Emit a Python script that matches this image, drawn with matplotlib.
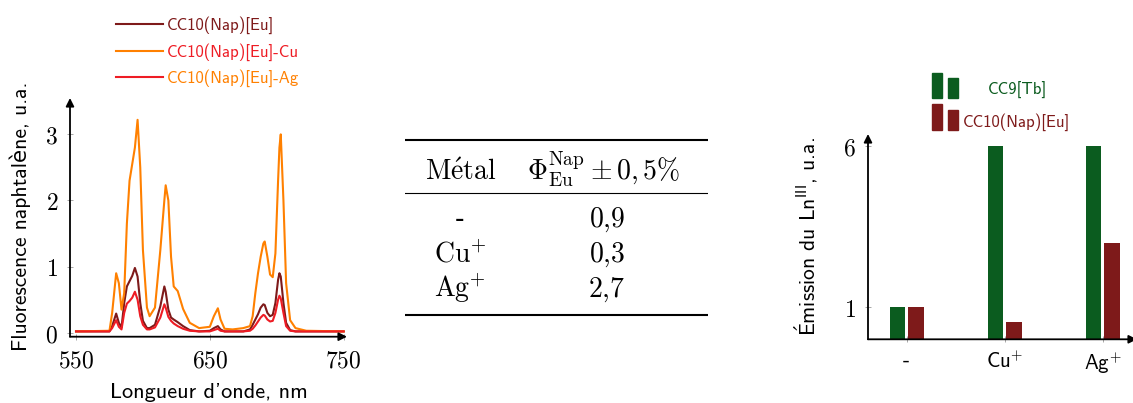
import matplotlib
matplotlib.use('Agg')
import matplotlib.pyplot as plt
from matplotlib.patches import Rectangle
import numpy as np

plt.rcParams['mathtext.fontset'] = 'cm'
SANS = ['cmss10', 'DejaVu Sans']

W, H = 1133, 403

# Spectra data (wavelength in nm, intensity in a.u.)
wl = [550, 575, 577, 580, 582, 584, 586, 588, 590, 592, 594, 596, 598, 600, 603, 605,
      609, 613, 616, 617, 619, 621, 623, 626, 630, 635, 642, 650, 653, 656, 658, 661,
      667, 675, 680, 682, 684, 686, 688, 690, 691, 693, 695, 697, 699, 701, 702, 703,
      705, 707, 710, 714, 722, 750]
eu = [0.02, 0.02, 0.10, 0.29, 0.15, 0.08, 0.45, 0.70, 0.78, 0.86, 0.98, 0.85, 0.45, 0.18, 0.07, 0.07,
      0.12, 0.40, 0.70, 0.62, 0.35, 0.23, 0.20, 0.16, 0.10, 0.04, 0.02, 0.03, 0.07, 0.10, 0.05, 0.02,
      0.02, 0.02, 0.05, 0.12, 0.20, 0.28, 0.38, 0.43, 0.42, 0.30, 0.25, 0.27, 0.45, 0.80, 0.90, 0.85,
      0.45, 0.15, 0.04, 0.02, 0.02, 0.02]
eu_cu = [0.02, 0.03, 0.30, 0.90, 0.75, 0.35, 0.60, 1.65, 2.30, 2.55, 2.80, 3.22, 2.50, 1.25, 0.38, 0.25,
         0.38, 1.25, 2.00, 2.23, 2.00, 1.15, 0.70, 0.63, 0.36, 0.15, 0.07, 0.09, 0.25, 0.37, 0.20, 0.06,
         0.05, 0.07, 0.10, 0.25, 0.60, 0.90, 1.15, 1.35, 1.38, 1.15, 0.88, 0.84, 1.20, 2.30, 2.80, 3.00,
         2.00, 0.75, 0.19, 0.07, 0.03, 0.02]
eu_ag = [0.02, 0.02, 0.07, 0.19, 0.09, 0.05, 0.30, 0.44, 0.48, 0.53, 0.62, 0.50, 0.25, 0.12, 0.05, 0.05,
         0.08, 0.23, 0.43, 0.38, 0.24, 0.18, 0.14, 0.10, 0.06, 0.03, 0.02, 0.02, 0.04, 0.06, 0.03, 0.02,
         0.02, 0.02, 0.03, 0.06, 0.11, 0.17, 0.23, 0.27, 0.26, 0.20, 0.17, 0.18, 0.30, 0.50, 0.56, 0.52,
         0.30, 0.10, 0.03, 0.02, 0.02, 0.02]
spec_labels = ['CC10(Nap)[Eu]', 'CC10(Nap)[Eu]-Cu', 'CC10(Nap)[Eu]-Ag']

# Table data
metals = ['-', r'$\mathrm{Cu}^{+}$', r'$\mathrm{Ag}^{+}$']
phi = ['0,9', '0,3', '2,7']

# Bar data
bar_cats = ['-', 'Cu$^{+}$', 'Ag$^{+}$']
tb_vals = [1, 6, 6]
eu_vals = [1, 0.55, 3.0]

DARKRED = '#7e1a1a'
ORANGE = '#ff8000'
RED = '#ee1c24'
GREEN = '#0b5c1f'


def frac(x, y):
    return x / W, 1 - y / H


def style_axes(ax):
    for s in ax.spines.values():
        s.set_visible(False)
    for end in [(1, 0), (0, 1)]:
        ax.annotate('', xy=end, xytext=(0, 0), xycoords='axes fraction',
                    arrowprops=dict(arrowstyle='-|>', lw=1.3, color='black',
                                    mutation_scale=12, shrinkA=0, shrinkB=0),
                    annotation_clip=False)
    ax.tick_params(direction='inout', length=5, width=0.6, color='#999999', pad=6)


fig = plt.figure(figsize=(W / 100, H / 100), dpi=100)

# Spectra
ax1 = fig.add_axes([70 / W, 1 - 336.7 / H, 277 / W, 238.7 / H])
ax1.plot(wl, eu, color=DARKRED, lw=1.5, label=spec_labels[0])
ax1.plot(wl, eu_cu, color=ORANGE, lw=1.5, label=spec_labels[1])
ax1.plot(wl, eu_ag, color=RED, lw=1.5, label=spec_labels[2])
ax1.set_xlim(545.5, 752.5)
ax1.set_ylim(-0.06, 3.55)
ax1.set_xticks([550, 650, 750])
ax1.set_xticklabels([f'${v}$' for v in [550, 650, 750]], fontsize=17)
ax1.set_yticks([0, 1, 2, 3])
ax1.set_yticklabels([f'${v}$' for v in [0, 1, 2, 3]], fontsize=17)
style_axes(ax1)
ax1.set_xlabel("Longueur d'onde, nm", family=SANS, fontsize=16)
ax1.set_ylabel('Fluorescence naphtalène, u.a.', family=SANS, fontsize=15.5)
ax1.xaxis.set_label_coords(0.5, -0.195)
ax1.yaxis.set_label_coords(-0.14, 0.505)
ax1.legend(loc='upper left', bbox_to_anchor=frac(101, 1), bbox_transform=fig.transFigure,
           frameon=False, prop={'family': SANS, 'size': 12}, handlelength=2.8,
           labelspacing=0.55, handletextpad=0.25,
           labelcolor=[DARKRED, RED, ORANGE])

# Table
axt = fig.add_axes([405 / W, 1 - 320 / H, 303 / W, 185 / H])
axt.set_xlim(405, 708)
axt.set_ylim(320, 135)
axt.axis('off')
axt.axhline(140, color='black', lw=1.5)
axt.axhline(193, color='black', lw=0.8)
axt.axhline(315, color='black', lw=1.5)
axt.text(461, 180, r'$\mathrm{M\acute{e}tal}$', ha='center', va='baseline', fontsize=20)
axt.text(604, 180, r'$\Phi_{\mathrm{Eu}}^{\mathrm{Nap}} \pm 0,5\%$', ha='center', va='baseline', fontsize=20)
for yb, m, p in zip([227, 262, 297], metals, phi):
    axt.text(460, yb, m, ha='center', va='baseline', fontsize=20,
             family='DejaVu Serif' if m == '-' else None)
    axt.text(607, yb, '$' + p.replace(',', '{,}') + '$', ha='center', va='baseline', fontsize=20)

# Bars
ax3 = fig.add_axes([868 / W, 1 - 339.3 / H, 269 / W, 205.3 / H])
x = np.arange(len(bar_cats))
bw = 0.155
ax3.bar(x - 0.095, tb_vals, bw, color=GREEN)
ax3.bar(x + 0.095, eu_vals, bw, color=DARKRED)
ax3.set_xlim(-0.395, 2.35)
ax3.set_ylim(0, 6.37)
ax3.set_xticks(x)
ax3.set_xticklabels(bar_cats, family=SANS, fontsize=15)
ax3.set_yticks([1, 6])
ax3.set_yticklabels(['$1$', '$6$'], fontsize=17)
style_axes(ax3)
ax3.set_ylabel(r'$\mathsf{\acute{E}}$mission du Ln$^{\mathsf{III}}$, u.a.', family=SANS, fontsize=15.5)
ax3.yaxis.set_label_coords(-0.18, 0.5)

# Bar legend
for (x0, y0, y1, c) in [(931.7, 72.7, 97.7, GREEN), (947.7, 78.3, 97.7, GREEN),
                        (931.7, 104.3, 130, DARKRED), (947.7, 110, 130, DARKRED)]:
    fx, fy = frac(x0, y1)
    fig.add_artist(Rectangle((fx, fy), 10.6 / W, (y1 - y0) / H, color=c,
                             transform=fig.transFigure))
fx, fy = frac(988, 90)
fig.text(fx, fy, 'CC9[Tb]', color=GREEN, family=SANS, fontsize=12, va='center')
fx, fy = frac(963, 122.5)
fig.text(fx, fy, 'CC10(Nap)[Eu]', color=DARKRED, family=SANS, fontsize=12, va='center')

fig.savefig('out.png', dpi=100)
